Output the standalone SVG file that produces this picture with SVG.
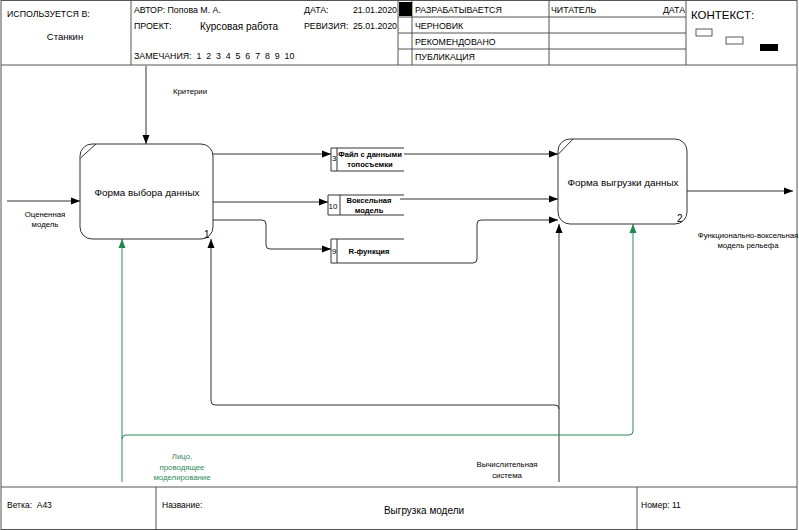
<svg xmlns="http://www.w3.org/2000/svg" width="799" height="530" viewBox="0 0 799 530">
<defs>
<style>
text{font-family:"Liberation Sans",Arial,sans-serif;fill:#000}
.h{font-size:8.8px}
.s{font-size:7.8px}
.b{font-size:7.6px;font-weight:bold}
.bx{font-size:9.9px}
.n{font-size:8px}
.fr{fill:none;stroke:#555;stroke-width:1}
.ln{fill:none;stroke:#333;stroke-width:1}
.gl{fill:none;stroke:#2e8b57;stroke-width:1}
.gt{fill:#2e8b57}
.node{fill:#fff;stroke:#333;stroke-width:1}
</style>
<marker id="ar" markerWidth="10" markerHeight="8" refX="9" refY="4" orient="auto" markerUnits="userSpaceOnUse"><path d="M0,0.5 L9,4 L0,7.5 Z" fill="#000"/></marker>
<marker id="ag" markerWidth="10" markerHeight="8" refX="9" refY="4" orient="auto" markerUnits="userSpaceOnUse"><path d="M0,0.5 L9,4 L0,7.5 Z" fill="#1f8a4c"/></marker>
</defs>
<rect width="799" height="530" fill="#fff"/>
<g id="frame">
<rect class="fr" x="1" y="0.5" width="796" height="529"/>
<line class="fr" x1="1" y1="65" x2="797" y2="65"/>
<line class="fr" x1="131" y1="0" x2="131" y2="65"/>
<line class="fr" x1="398" y1="0" x2="398" y2="65"/>
<line class="fr" x1="412" y1="0" x2="412" y2="65"/>
<line class="fr" x1="549" y1="0" x2="549" y2="65"/>
<line class="fr" x1="686" y1="0" x2="686" y2="65"/>
<line class="fr" x1="398" y1="17" x2="686" y2="17"/>
<line class="fr" x1="398" y1="33" x2="686" y2="33"/>
<line class="fr" x1="398" y1="49" x2="686" y2="49"/>
<rect x="399" y="2" width="13" height="14" fill="#000"/>
<rect x="696" y="29" width="16" height="7" fill="#fff" stroke="#333" stroke-width="0.8"/>
<rect x="726" y="37" width="17" height="7" fill="#fff" stroke="#333" stroke-width="0.8"/>
<rect x="760" y="44" width="18" height="7" fill="#000"/>
<line class="fr" x1="1" y1="487" x2="797" y2="487"/>
<line class="fr" x1="156" y1="487" x2="156" y2="529"/>
<line class="fr" x1="637" y1="487" x2="637" y2="529"/>
<text class="h" x="7" y="17">ИСПОЛЬЗУЕТСЯ В:</text>
<text x="65" y="40" text-anchor="middle" style="font-size:9.5px">Станкин</text>
<text class="h" x="134" y="13">АВТОР: Попова М. А.</text>
<text class="h" x="304" y="13">ДАТА:</text>
<text class="h" x="397" y="13" text-anchor="end">21.01.2020</text>
<text class="h" x="134" y="29">ПРОЕКТ:</text>
<text x="200" y="30" style="font-size:10px">Курсовая работа</text>
<text class="h" x="304" y="29">РЕВИЗИЯ:</text>
<text class="h" x="397" y="29" text-anchor="end">25.01.2020</text>
<text class="h" x="134" y="59" style="white-space:pre">ЗАМЕЧАНИЯ:  1  2  3  4  5  6  7  8  9  10</text>
<text class="h" x="415" y="13">РАЗРАБАТЫВАЕТСЯ</text>
<text class="h" x="415" y="29">ЧЕРНОВИК</text>
<text class="h" x="415" y="45">РЕКОМЕНДОВАНО</text>
<text class="h" x="415" y="60">ПУБЛИКАЦИЯ</text>
<text class="h" x="551" y="13">ЧИТАТЕЛЬ</text>
<text class="h" x="685" y="13" text-anchor="end">ДАТА</text>
<text x="691" y="19" style="font-size:11.5px">КОНТЕКСТ:</text>
<text class="h" x="7" y="508" style="font-size:8.5px;white-space:pre">Ветка:  А43</text>
<text class="h" x="162" y="508" style="font-size:8.5px">Название:</text>
<text x="424" y="514" text-anchor="middle" style="font-size:10px">Выгрузка модели</text>
<text class="h" x="641" y="508" style="font-size:8.5px">Номер: 11</text>
</g>
<g id="connectors">
<path class="ln" d="M7,201 H80" marker-end="url(#ar)"/>
<path class="ln" d="M146,66 V144" marker-end="url(#ar)"/>
<path class="ln" d="M213,154 H331" marker-end="url(#ar)"/>
<path class="ln" d="M213,202 H328" marker-end="url(#ar)"/>
<path class="ln" d="M213,220 H262 Q266,220 266,224 V245 Q266,249 270,249 H331" marker-end="url(#ar)"/>
<path class="ln" d="M404,154 H558" marker-end="url(#ar)"/>
<path class="ln" d="M400,199 H558" marker-end="url(#ar)"/>
<path class="ln" d="M404,263 H473 Q477,263 477,259 V224 Q477,220 481,220 H558" marker-end="url(#ar)"/>
<path class="ln" d="M687,191 H793" marker-end="url(#ar)"/>
<path class="ln" d="M559,482 V224" marker-end="url(#ar)"/>
<path class="ln" d="M559,409 Q559,405 555,405 H215 Q211,405 211,401 V239" marker-end="url(#ar)"/>
<path class="gl" d="M122,482 V239" marker-end="url(#ag)"/>
<path class="gl" d="M122,439 Q122,435 126,435 H629 Q633,435 633,431 V224" marker-end="url(#ag)"/>
<text class="s" x="190" y="94" text-anchor="middle">Критерии</text>
<text class="s" x="45" y="217" text-anchor="middle">Оцененная</text>
<text class="s" x="45" y="227" text-anchor="middle">модель</text>
<text class="s" x="748" y="238" text-anchor="middle">Функционально-воксельная</text>
<text class="s" x="748" y="248" text-anchor="middle">модель рельефа</text>
<text class="s" x="507" y="467" text-anchor="middle">Вычислительная</text>
<text class="s" x="507" y="478" text-anchor="middle">система</text>
<text class="s gt" x="182" y="459" text-anchor="middle">Лицо,</text>
<text class="s gt" x="182" y="470" text-anchor="middle">проводящее</text>
<text class="s gt" x="182" y="480" text-anchor="middle">моделирование</text>
</g>
<g id="node1">
<rect class="node" x="80" y="144" width="133" height="95" rx="12"/>
<line class="ln" x1="80.5" y1="158" x2="96" y2="144"/>
<text class="bx" x="147" y="196" text-anchor="middle">Форма выбора данных</text>
<text x="204" y="238" style="font-size:10px">1</text>
</g>
<g id="node2">
<rect class="node" x="558" y="139" width="129" height="85" rx="12"/>
<line class="ln" x1="558.5" y1="154" x2="573" y2="139"/>
<text class="bx" x="623" y="186" text-anchor="middle">Форма выгрузки данных</text>
<text x="677" y="222" style="font-size:10px">2</text>
</g>
<g id="store3">
<path class="ln" d="M404,148 H331 V171 H404 M337,148 V171"/>
<text class="n" x="332" y="161">3</text>
<text class="b" x="370" y="157" text-anchor="middle">Файл с данными</text>
<text class="b" x="370" y="167" text-anchor="middle">топосъемки</text>
</g>
<g id="store10">
<path class="ln" d="M404,195 H328 V215 H404 M340,195 V215"/>
<text class="n" x="328.5" y="209">10</text>
<text class="b" x="369" y="203" text-anchor="middle">Воксельная</text>
<text class="b" x="369" y="213" text-anchor="middle">модель</text>
</g>
<g id="store9">
<path class="ln" d="M404,239 H331 V263 H404 M337,239 V263"/>
<text class="n" x="332" y="254">9</text>
<text class="b" x="369" y="254" text-anchor="middle">R-функция</text>
</g>
</svg>
